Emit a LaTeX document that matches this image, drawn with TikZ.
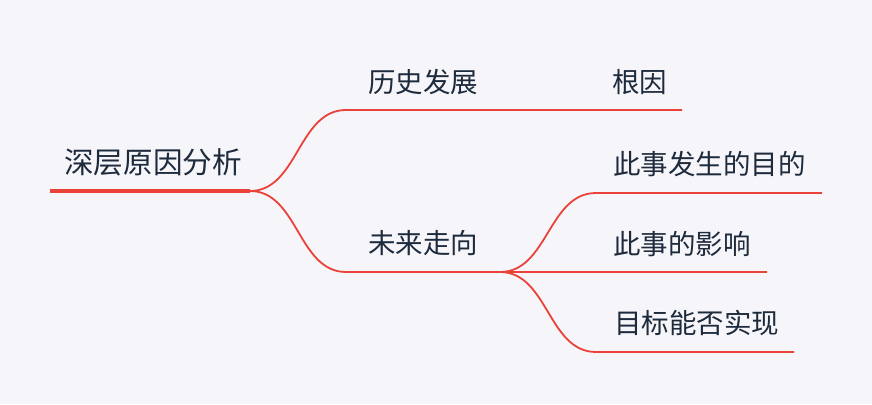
\documentclass[tikz,border=0pt]{standalone}
\usepackage{fontspec}
\newfontfamily\cjk{Noto Sans CJK SC}
\definecolor{mapred}{HTML}{EA4238}
\definecolor{maptext}{HTML}{1E2B3C}
\definecolor{mapback}{HTML}{F5F5FA}
\newcommand{\rootsize}{\fontsize{29.6}{34}\selectfont}
\newcommand{\topicsize}{\fontsize{27.5}{32}\selectfont}
\newcommand{\bend}{48}

\begin{document}
\begin{tikzpicture}[x=1pt, y=-1pt,
    topic/.style={anchor=west, inner sep=0pt, text=maptext, font=\cjk\topicsize},
    branch/.style={draw=mapred, line width=1.8pt}]
  \fill [mapback] (0,0) rectangle (872,404);

  \coordinate (R0) at (50, 191);
  \coordinate (R1) at (250, 191);
  \coordinate (H0) at (346, 110);
  \coordinate (H1) at (682, 110);
  \coordinate (W0) at (346, 272);
  \coordinate (W1) at (500, 272);
  \coordinate (M0) at (596, 193);
  \coordinate (M1) at (822, 193);
  \coordinate (I1) at (767, 272);
  \coordinate (S0) at (596, 352);
  \coordinate (S1) at (794, 352);

  \node [topic, font=\cjk\rootsize] (root) at (64, 162) {深层原因分析};
  \node [topic] (hist) at (368, 82) {历史发展};
  \node [topic] (cause) at (612, 82) {根因};
  \node [topic] (future) at (368, 243) {未来走向};
  \node [topic] (aim) at (613, 164) {此事发生的目的};
  \node [topic] (impact) at (613, 244) {此事的影响};
  \node [topic] (goal) at (614, 323) {目标能否实现};

  \draw [draw=mapred, line width=3.6pt] (R0) -- (R1);
  \draw [branch] (R1) .. controls +(\bend,0) and +(-\bend,0) .. (H0) -- (H1);
  \draw [branch] (R1) .. controls +(\bend,0) and +(-\bend,0) .. (W0) -- (W1) -- (I1);
  \draw [branch] (W1) .. controls +(\bend,0) and +(-\bend,0) .. (M0) -- (M1);
  \draw [branch] (W1) .. controls +(\bend,0) and +(-\bend,0) .. (S0) -- (S1);
\end{tikzpicture}
\end{document}
